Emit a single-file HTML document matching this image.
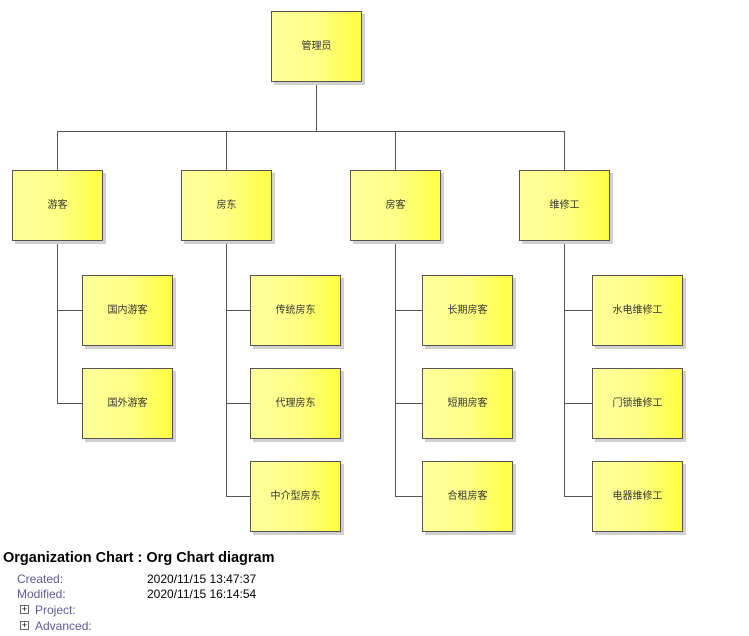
<!DOCTYPE html>
<html><head><meta charset="utf-8"><style>
body{margin:0;width:749px;height:636px;background:#fff;overflow:hidden;position:relative;font-family:"Liberation Sans","Noto Sans CJK SC",sans-serif}
.t{position:absolute;font-size:12px;color:#5a5aa0}
.v{position:absolute;font-size:12px;color:#000}
.pb{position:absolute;width:7px;height:7px;border:1px solid #666;font-size:9px;line-height:7px;text-align:center;color:#000}
.b{position:absolute;width:89px;height:69px;border:1px solid #555;background:linear-gradient(to right,#ffff9c 0%,#ffff88 50%,#ffff40 100%);box-shadow:3px 3px 0 #d0d0d0;font-size:10px;color:#333;text-align:center;line-height:69px;font-family:"Liberation Sans","Noto Sans CJK SC",sans-serif}
</style></head><body>
<svg width="749" height="545" style="position:absolute;left:0;top:0" xmlns="http://www.w3.org/2000/svg">
<g stroke="#555" stroke-width="1" fill="none">
<path d="M316.5 81V131.5M57.5 131.5H564.5M57.5 131V170M226.5 131V170M395.5 131V170M564.5 131V170"/>
<path d="M57.5 240V403.5M57 310.5H82M57 403.5H82"/>
<path d="M226.5 240V496.5M226 310.5H250M226 403.5H250M226 496.5H250"/>
<path d="M395.5 240V496.5M395 310.5H422M395 403.5H422M395 496.5H422"/>
<path d="M564.5 240V496.5M564 310.5H592M564 403.5H592M564 496.5H592"/>
</g>
</svg>
<div class="b" style="left:271px;top:11px">管理员</div>
<div class="b" style="left:12px;top:170px">游客</div>
<div class="b" style="left:181px;top:170px">房东</div>
<div class="b" style="left:350px;top:170px">房客</div>
<div class="b" style="left:519px;top:170px">维修工</div>
<div class="b" style="left:82px;top:275px">国内游客</div>
<div class="b" style="left:82px;top:368px">国外游客</div>
<div class="b" style="left:250px;top:275px">传统房东</div>
<div class="b" style="left:250px;top:368px">代理房东</div>
<div class="b" style="left:250px;top:461px">中介型房东</div>
<div class="b" style="left:422px;top:275px">长期房客</div>
<div class="b" style="left:422px;top:368px">短期房客</div>
<div class="b" style="left:422px;top:461px">合租房客</div>
<div class="b" style="left:592px;top:275px">水电维修工</div>
<div class="b" style="left:592px;top:368px">门锁维修工</div>
<div class="b" style="left:592px;top:461px">电器维修工</div>
<div style="position:absolute;left:3px;top:550px;font-size:14.5px;font-weight:bold;color:#000;white-space:nowrap">Organization Chart : Org Chart diagram</div>
<div class="t" style="left:17px;top:572px">Created:</div><div class="v" style="left:147px;top:572px">2020/11/15 13:47:37</div>
<div class="t" style="left:17px;top:587px">Modified:</div><div class="v" style="left:147px;top:587px">2020/11/15 16:14:54</div>
<div class="pb" style="left:20px;top:605px">+</div><div class="t" style="left:35px;top:603px">Project:</div>
<div class="pb" style="left:20px;top:621px">+</div><div class="t" style="left:35px;top:619px">Advanced:</div>
</body></html>
